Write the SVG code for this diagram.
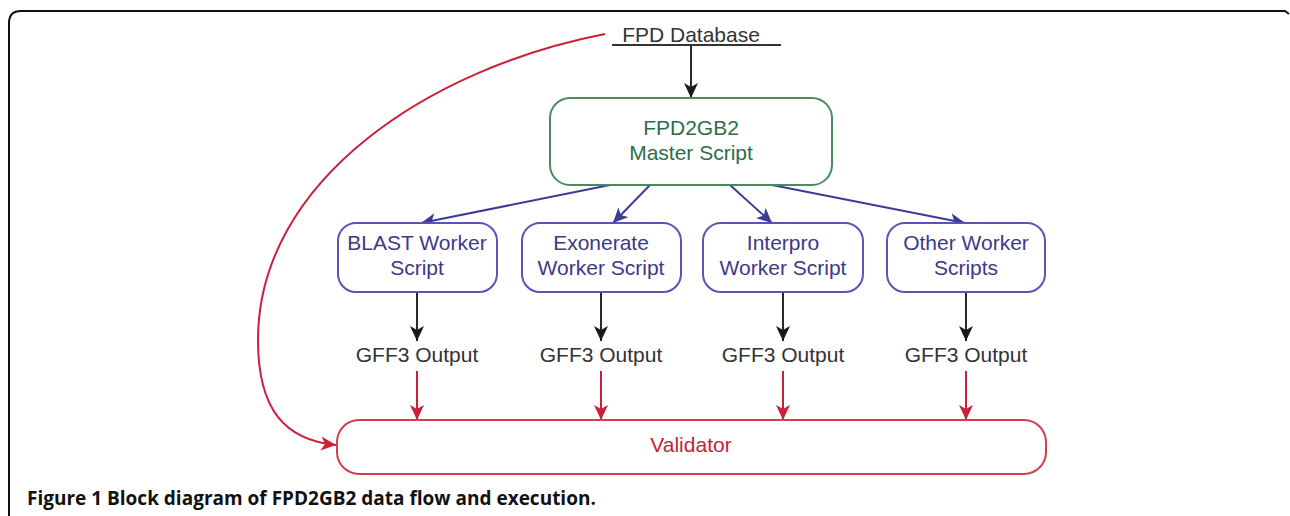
<svg xmlns="http://www.w3.org/2000/svg" width="1290" height="516" viewBox="0 0 1290 516">
<defs>
<style>
.t{font-family:"Liberation Sans",Arial,sans-serif;font-size:21px;text-anchor:middle}
.wk{fill:#fff;stroke:#5a55b5;stroke-width:2}
.wt{fill:#3b3a86}
.bl{stroke:#2a2a2a;stroke-width:2;fill:none;marker-end:url(#ak)}
.bu{stroke:#3c3c98;stroke-width:2;fill:none;marker-end:url(#ab)}
.rd{stroke:#cc1f3a;stroke-width:2;fill:none;marker-end:url(#ar)}
.gt{fill:#333}
</style>
<marker id="ak" markerUnits="userSpaceOnUse" markerWidth="16" markerHeight="14" refX="15" refY="7" orient="auto"><path d="M0,0 L15,7 L0,14 L4,7 z" fill="#1a1a1a"/></marker>
<marker id="ab" markerUnits="userSpaceOnUse" markerWidth="16" markerHeight="14" refX="15" refY="7" orient="auto"><path d="M0,0 L15,7 L0,14 L4,7 z" fill="#3c3c98"/></marker>
<marker id="ar" markerUnits="userSpaceOnUse" markerWidth="16" markerHeight="14" refX="15" refY="7" orient="auto"><path d="M0,0 L15,7 L0,14 L4,7 z" fill="#cc1f3a"/></marker>
</defs>
<rect width="1290" height="516" fill="#fff"/>
<path d="M9,516 L9,23 Q9,11 21,11 L1285,11 L1289,14" fill="none" stroke="#111" stroke-width="2"/>
<g id="connectors">
<path class="rd" d="M605,34 C430,68 258,180 258,340 C258,410 285,440 336,445"/>
<path class="bl" d="M691,46 L691,98"/>
<path class="bu" d="M610,185 L421,223"/>
<path class="bu" d="M650,185 L613,223"/>
<path class="bu" d="M730,185 L772,223"/>
<path class="bu" d="M772,185 L965,223"/>
<path class="bl" d="M417,292 L417,341"/>
<path class="bl" d="M601,292 L601,341"/>
<path class="bl" d="M783,292 L783,341"/>
<path class="bl" d="M966,292 L966,341"/>
<path class="rd" d="M417,371 L417,420"/>
<path class="rd" d="M601,371 L601,420"/>
<path class="rd" d="M783,371 L783,420"/>
<path class="rd" d="M966,371 L966,420"/>
</g>
<g id="db">
<text class="t gt" x="691" y="42">FPD Database</text>
<line x1="612" y1="45" x2="781" y2="45" stroke="#333" stroke-width="2"/>
</g>
<g id="master">
<rect x="550" y="98" width="282" height="87" rx="20" fill="#fff" stroke="#4b8a5f" stroke-width="2"/>
<text class="t" x="691" y="135" fill="#2e6d48">FPD2GB2</text>
<text class="t" x="691" y="160" fill="#2e6d48">Master Script</text>
</g>
<g id="blast">
<rect class="wk" x="338" y="223" width="159" height="69" rx="18"/>
<text class="t wt" x="417" y="250">BLAST Worker</text>
<text class="t wt" x="417" y="275">Script</text>
</g>
<g id="exonerate">
<rect class="wk" x="522" y="223" width="159" height="69" rx="18"/>
<text class="t wt" x="601" y="250">Exonerate</text>
<text class="t wt" x="601" y="275">Worker Script</text>
</g>
<g id="interpro">
<rect class="wk" x="703" y="223" width="160" height="69" rx="18"/>
<text class="t wt" x="783" y="250">Interpro</text>
<text class="t wt" x="783" y="275">Worker Script</text>
</g>
<g id="other">
<rect class="wk" x="887" y="223" width="158" height="69" rx="18"/>
<text class="t wt" x="966" y="250">Other Worker</text>
<text class="t wt" x="966" y="275">Scripts</text>
</g>
<g id="gff1"><text class="t gt" x="417" y="362">GFF3 Output</text></g>
<g id="gff2"><text class="t gt" x="601" y="362">GFF3 Output</text></g>
<g id="gff3"><text class="t gt" x="783" y="362">GFF3 Output</text></g>
<g id="gff4"><text class="t gt" x="966" y="362">GFF3 Output</text></g>
<g id="validator">
<rect x="337" y="420" width="709" height="54" rx="22" fill="#fff" stroke="#d0404f" stroke-width="2"/>
<text class="t" x="691" y="452" fill="#c8203a">Validator</text>
</g>
<text x="27" y="505" font-family="'Open Sans','Liberation Sans',sans-serif" font-size="19" font-weight="bold" fill="#111">Figure 1 Block diagram of FPD2GB2 data flow and execution.</text>
</svg>
